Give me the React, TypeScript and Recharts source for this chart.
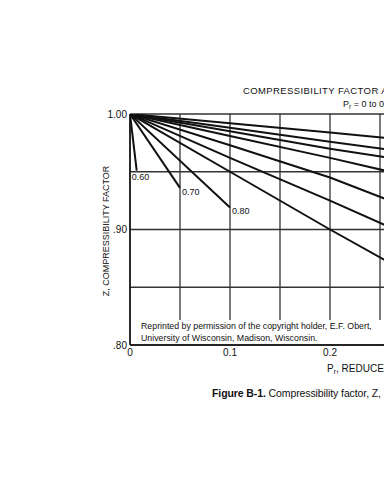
import React from 'react'
import { LineChart, Line, XAxis, YAxis, CartesianGrid } from 'recharts'

// reduced pressure points and Z readings, one pair of arrays per isotherm
const prShort060 = [0, 0.0067]
const z060 = [1.0, 0.951]
const prShort070 = [0, 0.05]
const z070 = [1.0, 0.936]
const prShort080 = [0, 0.1]
const z080 = [1.0, 0.919]

const prLong = [0, 0.1, 0.2, 0.26]
const z090 = [1.0, 0.950, 0.900, 0.871]
const z100 = [1.0, 0.962, 0.925, 0.902]
const z110 = [1.0, 0.973, 0.945, 0.925]
const z120 = [1.0, 0.981, 0.962, 0.950]
const z130 = [1.0, 0.985, 0.970, 0.962]
const z140 = [1.0, 0.988, 0.976, 0.969]
const z150 = [1.0, 0.992, 0.984, 0.979]

const xTicks = [0, 0.05, 0.1, 0.15, 0.2, 0.25, 0.3, 0.35, 0.4, 0.45, 0.5]
const xTickLabels: Record<string, string> = { '0': '0', '0.1': '0.1', '0.2': '0.2' }
const yTicks = [0.8, 0.85, 0.9, 0.95, 1.0]
const yTickLabels: Record<string, string> = { '0.8': '.80', '0.9': '.90', '1': '1.00' }

const FONT = '"Liberation Sans", Arial, sans-serif'

const toData = (pr: number[], z: number[]) => pr.map((p, i) => ({ pr: p, z: z[i] }))

const series = [
    { key: '0.60', data: toData(prShort060, z060), label: { dx: -5, dy: 9 } },
    { key: '0.70', data: toData(prShort070, z070), label: { dx: 2, dy: 7 } },
    { key: '0.80', data: toData(prShort080, z080), label: { dx: 2, dy: 6 } },
    { key: '0.90', data: toData(prLong, z090) },
    { key: '1.00', data: toData(prLong, z100) },
    { key: '1.10', data: toData(prLong, z110) },
    { key: '1.20', data: toData(prLong, z120) },
    { key: '1.30', data: toData(prLong, z130) },
    { key: '1.40', data: toData(prLong, z140) },
    { key: '1.50', data: toData(prLong, z150) },
]

const endLabel = (text: string, last: number, dx: number, dy: number) => (props: any) => {
    if (props.index !== last) return <g />
    return (
        <text x={props.x + dx} y={props.y + dy} fontSize={9} fontFamily={FONT} fill="#111">
            {text}
        </text>
    )
}

export default function App() {
    return (
        <div style={{ position: 'absolute', left: 0, top: 0, width: 384, height: 480, overflow: 'hidden', background: '#fff' }}>
            <div style={{ position: 'absolute', left: 0, top: 0 }}>
                <LineChart width={650} height={480} margin={{ top: 114, right: 20, bottom: 105, left: 90 }}>
                    <CartesianGrid stroke="#333" strokeWidth={1.3} horizontal vertical />
                    <XAxis
                        type="number"
                        dataKey="pr"
                        domain={[0, 0.5]}
                        ticks={xTicks}
                        allowDataOverflow
                        height={30}
                        tickSize={0}
                        tickMargin={4}
                        tickFormatter={(v: number) => xTickLabels[String(v)] ?? ''}
                        tick={{ fontSize: 10, fontFamily: FONT, fill: '#111' }}
                        axisLine={{ stroke: '#111', strokeWidth: 1.5 }}
                    />
                    <YAxis
                        type="number"
                        domain={[0.8, 1.0]}
                        ticks={yTicks}
                        allowDataOverflow
                        width={40}
                        tickSize={0}
                        tickMargin={3}
                        tickFormatter={(v: number) => yTickLabels[String(v)] ?? ''}
                        tick={{ fontSize: 10, fontFamily: FONT, fill: '#111' }}
                        axisLine={{ stroke: '#111', strokeWidth: 1.5 }}
                    />
                    {series.map(s => (
                        <Line
                            key={s.key}
                            data={s.data}
                            dataKey="z"
                            type="linear"
                            stroke="#111"
                            strokeWidth={2}
                            dot={false}
                            activeDot={false}
                            isAnimationActive={false}
                            label={s.label ? endLabel(s.key, s.data.length - 1, s.label.dx, s.label.dy) : undefined}
                        />
                    ))}
                </LineChart>
            </div>
            <svg width={384} height={480} style={{ position: 'absolute', left: 0, top: 0 }}>
                <text x={243} y={94} fontSize={9.5} fontFamily={FONT} letterSpacing={0.4} fill="#111">
                    COMPRESSIBILITY FACTOR AT LOW PRESSURES
                </text>
                <text x={343} y={107} fontSize={9} fontFamily={FONT} fill="#111">
                    P<tspan fontSize={6.5} dy={2}>r</tspan><tspan dy={-2}> = 0 to 0.5</tspan>
                </text>
                <text
                    x={109}
                    y={231}
                    transform="rotate(-90 109 231)"
                    textAnchor="middle"
                    fontSize={9}
                    fontFamily={FONT}
                    fill="#111"
                >
                    Z, COMPRESSIBILITY FACTOR
                </text>
                <text x={327} y={372} fontSize={10} fontFamily={FONT} fill="#111">
                    P<tspan fontSize={7} dy={2}>r</tspan><tspan dy={-2}>, REDUCED PRESSURE</tspan>
                </text>
                <rect x={131} y={320} width={260} height={24} fill="#fff" />
                <text x={141} y={329} fontSize={8.8} fontFamily={FONT} fill="#111">
                    Reprinted by permission of the copyright holder, E.F. Obert,
                </text>
                <text x={141} y={341} fontSize={8.8} fontFamily={FONT} fill="#111">
                    University of Wisconsin, Madison, Wisconsin.
                </text>
                <text x={212} y={397} fontSize={10.5} fontFamily={FONT} letterSpacing={-0.1} fill="#111">
                    <tspan fontWeight="bold">Figure B-1.</tspan> Compressibility factor, Z, at low pressures.
                </text>
            </svg>
        </div>
    )
}
